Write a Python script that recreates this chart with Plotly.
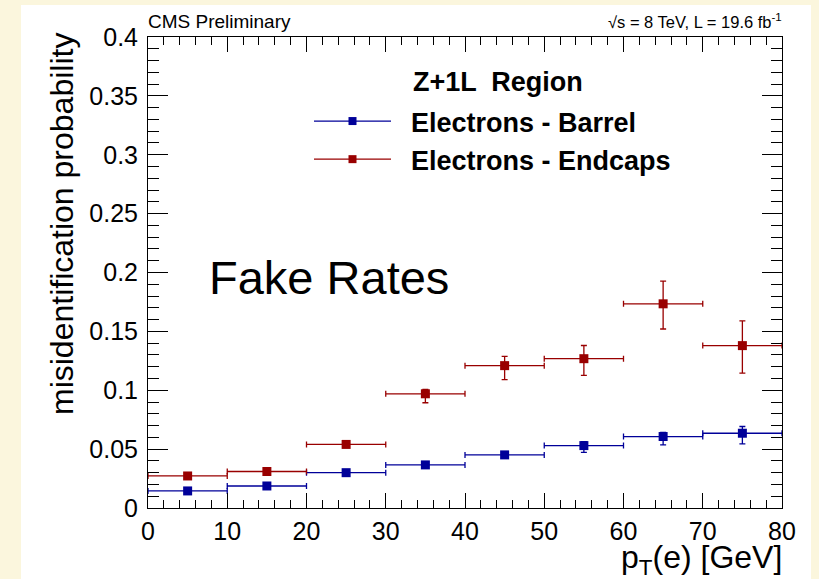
import plotly.graph_objects as go

# ---- data ----
bin_centers = [5, 15, 25, 35, 45, 55, 65, 75]
bin_halfwidth = [5, 5, 5, 5, 5, 5, 5, 5]

barrel_rate = [0.0145, 0.0187, 0.0300, 0.0366, 0.0451, 0.0530, 0.0607, 0.0635]
barrel_err_up = [0.0010, 0.0010, 0.0010, 0.0010, 0.0010, 0.0034, 0.0034, 0.0057]
barrel_err_dn = [0.0010, 0.0010, 0.0010, 0.0010, 0.0010, 0.0057, 0.0071, 0.0090]

endcap_rate = [0.0272, 0.0310, 0.0540, 0.0970, 0.1209, 0.1268, 0.1734, 0.1379]
endcap_err_up = [0.0010, 0.0010, 0.0010, 0.0037, 0.0079, 0.0112, 0.0192, 0.0211]
endcap_err_dn = [0.0010, 0.0010, 0.0010, 0.0076, 0.0119, 0.0142, 0.0214, 0.0233]

y_tickvals = [0, 0.05, 0.1, 0.15, 0.2, 0.25, 0.3, 0.35, 0.4]
y_ticktext = ["0", "0.05", "0.1", "0.15", "0.2", "0.25", "0.3", "0.35", "0.4"]
x_tickvals = [0, 10, 20, 30, 40, 50, 60, 70, 80]

BLUE = "#000099"
RED = "#990000"
FONT = "Liberation Sans, Arial, Helvetica, sans-serif"
GAP = "\u00a0\u00a0"

fig = go.Figure()

def add_series(name, y, up, dn, color):
    fig.add_trace(go.Scatter(
        x=bin_centers, y=y, name=name, mode="markers", showlegend=False,
        marker=dict(symbol="square", size=9, color=color),
        error_x=dict(type="data", array=bin_halfwidth, color=color,
                     thickness=1.3, width=3),
        error_y=dict(type="data", array=up, arrayminus=dn, color=color,
                     thickness=1.3, width=3),
    ))
    # legend entry (ROOT-style line + marker sample)
    fig.add_trace(go.Scatter(
        x=[None], y=[None], name=GAP + name, mode="lines+markers",
        marker=dict(symbol="square", size=8, color=color),
        line=dict(color=color, width=1.3),
    ))

add_series("Electrons - Barrel", barrel_rate, barrel_err_up, barrel_err_dn, BLUE)
add_series("Electrons - Endcaps", endcap_rate, endcap_err_up, endcap_err_dn, RED)

axis_common = dict(
    showline=True, linecolor="black", linewidth=1, mirror="ticks",
    ticks="inside", tickcolor="black", tickwidth=1,
    showgrid=False, zeroline=False,
    tickfont=dict(family=FONT, size=25, color="black"),
)

fig.update_xaxes(range=[0, 80], tickvals=x_tickvals, ticklen=15,
                 minor=dict(ticks="inside", ticklen=8, dtick=2, tickcolor="black"),
                 ticklabelstandoff=1, **axis_common)
fig.update_yaxes(range=[0, 0.4], tickvals=y_tickvals, ticktext=y_ticktext, ticklen=20,
                 minor=dict(ticks="inside", ticklen=11, dtick=0.01, tickcolor="black"),
                 ticklabelstandoff=4, **axis_common)

PW = 634.0
PH = 471.0
def px(xp):
    return (xp - 148) / PW
def py(yp):
    return (508 - yp) / PH

annotations = [
    dict(text="CMS Preliminary", x=px(146), y=py(21), xanchor="left", yanchor="middle",
         font=dict(family=FONT, size=19, color="black")),
    dict(text="√s = 8 TeV, L = 19.6 fb<sup>-1</sup>", x=px(784), y=py(21), xanchor="right",
         yanchor="middle", font=dict(family=FONT, size=16.5, color="black")),
    dict(text="Z+1L  Region", x=px(411), y=py(82), xanchor="left", yanchor="middle",
         font=dict(family=FONT, size=27, color="black", weight="bold")),
    dict(text="Fake Rates", x=px(207), y=py(277), xanchor="left", yanchor="middle",
         font=dict(family=FONT, size=47, color="black")),
    dict(text="p<sub>T</sub>(e) [GeV]", x=px(784), y=py(559), xanchor="right", yanchor="middle",
         font=dict(family=FONT, size=32, color="black")),
    dict(text="misidentification probability", x=px(62), y=py(31), xanchor="center",
         yanchor="top", textangle=-90, font=dict(family=FONT, size=32, color="black")),
]
for a in annotations:
    a.update(xref="paper", yref="paper", showarrow=False)

fig.update_layout(
    width=819, height=579,
    margin=dict(l=148, r=37, t=37, b=71),
    paper_bgcolor="#FBF6DD", plot_bgcolor="white",
    annotations=annotations,
    shapes=[dict(type="rect", xref="paper", yref="paper", layer="below",
                 x0=px(21), x1=px(811), y0=py(600), y1=py(5),
                 fillcolor="white", line=dict(width=0))],
    showlegend=True,
    legend=dict(x=px(309), y=py(97), xanchor="left", yanchor="top",
                bgcolor="rgba(0,0,0,0)", itemwidth=77, tracegroupgap=0,
                font=dict(family=FONT, size=27, color="black", weight="bold")),
    font=dict(family=FONT),
)

fig.write_html("out.html")
